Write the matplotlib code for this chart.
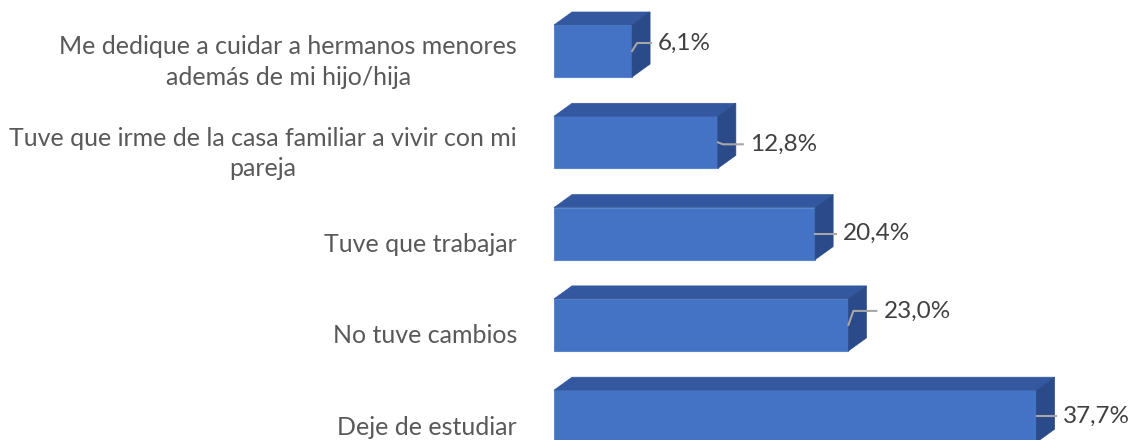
import numpy as np
import matplotlib.pyplot as plt
from matplotlib.patches import Polygon

categories = ['Me dedique a cuidar a hermanos menores\nademás de mi hijo/hija',
              'Tuve que irme de la casa familiar a vivir con mi\npareja',
              'Tuve que trabajar',
              'No tuve cambios',
              'Deje de estudiar']
values = [6.1, 12.8, 20.4, 23.0, 37.7]
value_labels = ['6,1%', '12,8%', '20,4%', '23,0%', '37,7%']

plt.rcParams['font.family'] = ['Lato', 'DejaVu Sans']

W, H = 1130, 440
x0 = 554          # pixel of 0 %
ppp = 12.8        # pixels per percent
fig = plt.figure(figsize=(W / 100, H / 100), dpi=100)
ax = fig.add_axes([0, 0, 1, 1])
ax.set_xlim(-x0 / ppp, (W - x0) / ppp)
ax.set_ylim(H, 0)
ax.axis('off')

front = '#4472C4'
top = '#34589F'
side = '#2A4A8A'
bh = 52
dx = 18 / ppp
dy = 13
centers = 51 + np.arange(len(values)) * 91.3

ax.barh(centers, values, height=bh, color=front, edgecolor='#5a86d0', linewidth=0.8, zorder=2)
for c, v in zip(centers, values):
    t = c - bh / 2
    b = c + bh / 2
    ax.add_patch(Polygon([(0, t), (dx, t - dy), (v + dx, t - dy), (v, t)],
                         closed=True, facecolor=top, edgecolor=top, lw=0.5, zorder=2))
    ax.add_patch(Polygon([(v, t), (v + dx, t - dy), (v + dx, b - dy), (v, b)],
                         closed=True, facecolor=side, edgecolor=side, lw=0.5, zorder=2))

# category labels
for c, lab in zip(centers, categories):
    ax.text(-37 / ppp, c + 11, lab, ha='right', va='center', multialignment='center',
            fontsize=18, color='#595959', linespacing=1.4)

# value labels with leader lines
lab_gap = [8, 14, 10, 17, 8]
lab_dy = [-8, 2, 0, -14, 0]
for c, v, s, g, d in zip(centers, values, value_labels, lab_gap, lab_dy):
    tx = v + dx + g / ppp
    ty = c + d
    ax.plot([v, v + 5 / ppp if d != 0 else v, tx - 7 / ppp], [c, ty, ty],
            color='#a6a6a6', lw=1.5, zorder=3)
    ax.text(tx, ty, s, ha='left', va='center', fontsize=17.5, color='#404040')

fig.savefig('out.png', dpi=100)
